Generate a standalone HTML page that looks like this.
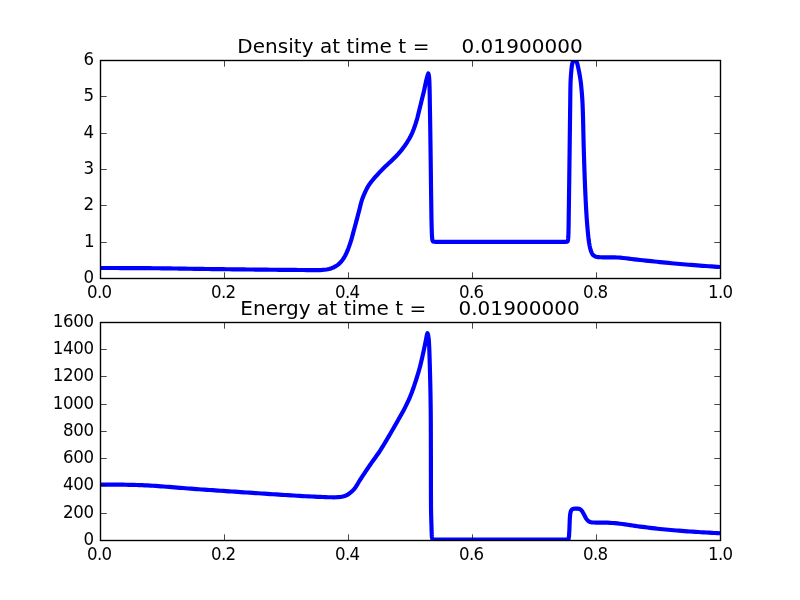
<!DOCTYPE html>
<html><head><meta charset="utf-8"><title>Density and Energy</title>
<style>
html,body{margin:0;padding:0;background:#fff;}
svg{display:block;}
text{font-family:"DejaVu Sans","Bitstream Vera Sans","Liberation Sans",sans-serif;fill:#000;}
.tick{font-size:16.667px;}
.title{font-size:20.000px;}
</style></head><body>
<svg width="800" height="600" viewBox="0 0 800 600">
<rect width="800" height="600" fill="#ffffff"/>
<defs>
<clipPath id="c1"><rect x="100" y="60" width="620" height="218.18"/></clipPath>
<clipPath id="c2"><rect x="100" y="321.82" width="620" height="218.18"/></clipPath>
</defs>

<g clip-path="url(#c1)"><path d="M100.00 268.00 L102.94 268.00 L105.88 268.00 L108.82 268.01 L111.77 268.01 L114.71 268.02 L117.65 268.03 L120.59 268.04 L123.53 268.05 L126.47 268.07 L129.41 268.08 L132.35 268.10 L135.29 268.11 L138.24 268.13 L141.18 268.15 L144.12 268.16 L147.06 268.18 L150.00 268.20 L152.94 268.22 L155.88 268.25 L158.82 268.28 L161.76 268.31 L164.71 268.35 L167.65 268.39 L170.59 268.44 L173.53 268.48 L176.47 268.53 L179.41 268.58 L182.35 268.63 L185.29 268.68 L188.24 268.73 L191.18 268.77 L194.12 268.82 L197.06 268.86 L200.00 268.90 L202.94 268.94 L205.88 268.98 L208.82 269.01 L211.76 269.05 L214.71 269.09 L217.65 269.12 L220.59 269.16 L223.53 269.20 L226.47 269.23 L229.41 269.27 L232.35 269.30 L235.29 269.33 L238.24 269.37 L241.18 269.40 L244.12 269.44 L247.06 269.47 L250.00 269.50 L252.86 269.53 L255.71 269.56 L258.57 269.59 L261.43 269.62 L264.29 269.65 L267.14 269.68 L270.00 269.71 L272.86 269.74 L275.71 269.77 L278.57 269.80 L281.43 269.82 L284.29 269.85 L287.14 269.88 L290.00 269.90 L292.75 269.92 L295.50 269.95 L298.25 269.98 L301.00 270.00 L303.75 270.03 L306.50 270.05 L309.26 270.07 L312.00 270.09 L314.75 270.10 L317.50 270.10 L319.79 270.05 L322.08 269.92 L324.35 269.73 L326.60 269.50 L329.13 269.00 L331.63 268.18 L334.00 267.20 L335.95 266.15 L337.82 264.84 L339.50 263.40 L341.06 261.76 L342.52 259.93 L343.84 257.98 L345.00 256.00 L346.31 253.40 L347.49 250.70 L348.56 247.92 L349.56 245.11 L350.50 242.30 L351.29 239.77 L352.03 237.22 L352.73 234.65 L353.41 232.07 L354.10 229.50 L354.86 226.72 L355.61 223.94 L356.36 221.15 L357.11 218.37 L357.84 215.58 L358.57 212.79 L359.30 210.00 L359.98 207.22 L360.65 204.45 L361.40 201.70 L362.35 198.86 L363.43 196.06 L364.60 193.30 L365.57 191.17 L366.60 189.06 L367.71 187.00 L368.90 185.00 L370.44 182.86 L372.10 180.80 L373.82 178.73 L375.60 176.70 L377.53 174.56 L379.49 172.44 L381.48 170.36 L383.50 168.30 L385.23 166.62 L387.00 164.97 L388.79 163.33 L390.56 161.68 L392.30 160.00 L394.33 157.98 L396.35 155.93 L398.32 153.85 L400.20 151.70 L401.84 149.68 L403.42 147.59 L404.94 145.46 L406.40 143.30 L407.70 141.28 L408.96 139.22 L410.16 137.13 L411.25 135.00 L412.47 132.29 L413.57 129.51 L414.60 126.70 L415.55 123.92 L416.43 121.12 L417.25 118.30 L417.97 115.54 L418.63 112.77 L419.30 110.00 L419.99 107.20 L420.69 104.40 L421.38 101.61 L422.07 98.81 L422.76 96.01 L423.44 93.21 L424.10 90.40 L424.67 87.82 L425.22 85.23 L425.76 82.63 L426.35 80.06 L427.00 77.50 L427.68 74.99 L428.30 73.50 L428.74 74.70 L429.10 77.35 L429.30 80.00 L429.41 82.68 L429.50 85.38 L429.58 88.07 L429.64 90.77 L429.69 93.48 L429.74 96.18 L429.78 98.89 L429.81 101.59 L429.85 104.30 L429.90 107.00 L429.95 109.87 L430.00 112.75 L430.05 115.62 L430.10 118.50 L430.14 121.37 L430.19 124.25 L430.23 127.12 L430.28 130.00 L430.32 132.87 L430.36 135.75 L430.40 138.62 L430.44 141.50 L430.48 144.37 L430.52 147.25 L430.56 150.12 L430.60 153.00 L430.64 155.94 L430.68 158.87 L430.72 161.81 L430.75 164.75 L430.79 167.69 L430.82 170.63 L430.86 173.56 L430.89 176.50 L430.93 179.44 L430.96 182.38 L431.00 185.31 L431.04 188.25 L431.07 191.19 L431.11 194.13 L431.16 197.06 L431.20 200.00 L431.24 202.91 L431.28 205.82 L431.32 208.73 L431.36 211.64 L431.41 214.55 L431.45 217.46 L431.51 220.37 L431.56 223.28 L431.63 226.19 L431.71 229.09 L431.80 232.00 L431.90 234.52 L432.05 237.04 L432.30 239.50 L432.55 240.61 L433.00 241.40 L433.88 241.68 L435.00 241.80 L437.95 241.80 L440.91 241.80 L443.88 241.80 L446.85 241.80 L449.84 241.80 L452.83 241.80 L455.82 241.80 L458.83 241.80 L461.83 241.80 L464.85 241.80 L467.86 241.80 L470.89 241.80 L473.91 241.80 L476.94 241.80 L479.96 241.80 L483.00 241.80 L486.03 241.80 L489.06 241.80 L492.09 241.80 L495.12 241.80 L498.15 241.80 L501.18 241.80 L504.21 241.80 L507.23 241.80 L510.25 241.80 L513.27 241.80 L516.28 241.80 L519.29 241.80 L522.29 241.80 L525.28 241.80 L528.27 241.80 L531.26 241.80 L534.23 241.80 L537.20 241.80 L540.16 241.80 L543.10 241.80 L546.04 241.80 L548.97 241.80 L551.89 241.80 L554.80 241.80 L557.69 241.80 L560.57 241.80 L563.44 241.80 L566.30 241.80 L567.05 241.64 L567.60 241.30 L567.92 240.29 L568.10 239.00 L568.29 237.01 L568.40 235.00 L568.48 232.15 L568.55 229.29 L568.60 226.43 L568.64 223.57 L568.67 220.72 L568.71 217.86 L568.75 215.00 L568.79 212.11 L568.84 209.21 L568.88 206.32 L568.92 203.42 L568.96 200.53 L569.00 197.63 L569.04 194.74 L569.08 191.84 L569.12 188.95 L569.16 186.05 L569.20 183.16 L569.24 180.26 L569.27 177.37 L569.31 174.47 L569.35 171.58 L569.39 168.68 L569.42 165.79 L569.46 162.89 L569.50 160.00 L569.54 157.11 L569.58 154.21 L569.61 151.32 L569.65 148.42 L569.69 145.53 L569.72 142.63 L569.76 139.74 L569.79 136.84 L569.83 133.95 L569.87 131.05 L569.90 128.16 L569.94 125.26 L569.97 122.37 L570.01 119.47 L570.05 116.58 L570.08 113.68 L570.12 110.79 L570.16 107.89 L570.20 105.00 L570.23 102.37 L570.26 99.75 L570.29 97.12 L570.32 94.50 L570.36 91.87 L570.39 89.25 L570.44 86.62 L570.50 84.00 L570.60 81.20 L570.74 78.39 L570.93 75.59 L571.15 72.79 L571.40 70.00 L571.62 67.81 L571.90 65.63 L572.30 63.50 L572.69 62.15 L573.30 61.00 L573.80 60.54 L574.40 60.30 L575.02 60.55 L575.60 61.00 L576.40 61.78 L577.00 62.70 L577.49 64.30 L577.85 66.00 L578.45 68.66 L579.00 71.32 L579.50 74.00 L579.93 76.49 L580.34 78.99 L580.70 81.49 L581.00 84.00 L581.27 86.62 L581.52 89.24 L581.75 91.86 L581.96 94.49 L582.16 97.11 L582.33 99.74 L582.48 102.37 L582.60 105.00 L582.71 107.81 L582.81 110.62 L582.90 113.43 L582.99 116.24 L583.06 119.05 L583.13 121.87 L583.20 124.68 L583.26 127.49 L583.32 130.31 L583.38 133.12 L583.44 135.93 L583.51 138.75 L583.57 141.56 L583.64 144.37 L583.72 147.19 L583.80 150.00 L583.89 152.91 L583.98 155.83 L584.07 158.74 L584.16 161.65 L584.26 164.57 L584.35 167.48 L584.45 170.39 L584.55 173.31 L584.66 176.22 L584.76 179.13 L584.87 182.04 L584.99 184.96 L585.11 187.87 L585.23 190.78 L585.36 193.69 L585.50 196.60 L585.64 199.52 L585.79 202.44 L585.94 205.36 L586.10 208.28 L586.27 211.20 L586.45 214.12 L586.64 217.04 L586.84 219.96 L587.06 222.87 L587.29 225.78 L587.54 228.69 L587.80 231.60 L588.07 234.35 L588.36 237.12 L588.69 239.89 L589.09 242.63 L589.55 245.34 L590.10 248.00 L590.78 250.57 L591.75 253.10 L593.00 255.00 L595.23 256.46 L598.00 257.20 L600.67 257.26 L603.41 257.30 L606.20 257.32 L609.01 257.33 L611.82 257.36 L614.60 257.40 L617.43 257.51 L620.25 257.70 L623.08 257.96 L625.90 258.27 L628.72 258.62 L631.54 258.98 L634.36 259.35 L637.18 259.69 L640.00 260.00 L642.86 260.29 L645.71 260.59 L648.57 260.88 L651.43 261.18 L654.28 261.48 L657.14 261.78 L659.99 262.08 L662.85 262.37 L665.71 262.66 L668.56 262.94 L671.42 263.22 L674.28 263.49 L677.14 263.75 L680.00 264.00 L682.85 264.24 L685.71 264.48 L688.56 264.72 L691.42 264.95 L694.28 265.17 L697.13 265.40 L699.99 265.62 L702.85 265.83 L705.70 266.04 L708.56 266.24 L711.42 266.44 L714.28 266.63 L717.14 266.82 L720.00 267.00" fill="none" stroke="#0000ff" stroke-width="4.17" stroke-linejoin="round" stroke-linecap="butt"/></g>
<path d="M100.50 278.50 v-6.20 M100.50 60.50 v6.20 M224.50 278.50 v-6.20 M224.50 60.50 v6.20 M348.50 278.50 v-6.20 M348.50 60.50 v6.20 M472.50 278.50 v-6.20 M472.50 60.50 v6.20 M596.50 278.50 v-6.20 M596.50 60.50 v6.20 M720.50 278.50 v-6.20 M720.50 60.50 v6.20 M100.50 278.50 h6.20 M720.50 278.50 h-6.20 M100.50 242.50 h6.20 M720.50 242.50 h-6.20 M100.50 205.50 h6.20 M720.50 205.50 h-6.20 M100.50 169.50 h6.20 M720.50 169.50 h-6.20 M100.50 133.50 h6.20 M720.50 133.50 h-6.20 M100.50 96.50 h6.20 M720.50 96.50 h-6.20 M100.50 60.50 h6.20 M720.50 60.50 h-6.20" stroke="#000" stroke-opacity="0.72" stroke-width="1" fill="none"/>
<rect x="100.5" y="60.5" width="620" height="218" fill="none" stroke="#000" stroke-width="1.39"/>
<text class="tick" transform="translate(99.60 297.68) scale(1 1.080)" text-anchor="middle" textLength="25.2" lengthAdjust="spacing">0.0</text>
<text class="tick" transform="translate(223.60 297.68) scale(1 1.080)" text-anchor="middle" textLength="25.2" lengthAdjust="spacing">0.2</text>
<text class="tick" transform="translate(347.60 297.68) scale(1 1.080)" text-anchor="middle" textLength="25.2" lengthAdjust="spacing">0.4</text>
<text class="tick" transform="translate(471.60 297.68) scale(1 1.080)" text-anchor="middle" textLength="25.2" lengthAdjust="spacing">0.6</text>
<text class="tick" transform="translate(595.60 297.68) scale(1 1.080)" text-anchor="middle" textLength="25.2" lengthAdjust="spacing">0.8</text>
<text class="tick" transform="translate(720.60 297.68) scale(1 1.080)" text-anchor="middle" textLength="25.2" lengthAdjust="spacing">1.0</text>
<text class="tick" transform="translate(94.00 283.18) scale(1 1.080)" text-anchor="end" textLength="10.3" lengthAdjust="spacing">0</text>
<text class="tick" transform="translate(94.70 246.82) scale(1 1.080)" text-anchor="end" textLength="10.3" lengthAdjust="spacing">1</text>
<text class="tick" transform="translate(94.00 210.45) scale(1 1.080)" text-anchor="end" textLength="10.3" lengthAdjust="spacing">2</text>
<text class="tick" transform="translate(94.00 174.09) scale(1 1.080)" text-anchor="end" textLength="10.3" lengthAdjust="spacing">3</text>
<text class="tick" transform="translate(94.00 137.73) scale(1 1.080)" text-anchor="end" textLength="10.3" lengthAdjust="spacing">4</text>
<text class="tick" transform="translate(94.00 101.36) scale(1 1.080)" text-anchor="end" textLength="10.3" lengthAdjust="spacing">5</text>
<text class="tick" transform="translate(94.00 65.00) scale(1 1.080)" text-anchor="end" textLength="10.3" lengthAdjust="spacing">6</text>
<text class="title" transform="translate(410 52.70) scale(1 1.000)" text-anchor="middle" xml:space="preserve" textLength="345.50" lengthAdjust="spacing">Density at time t =     0.01900000</text>
<g clip-path="url(#c2)"><path d="M100.00 484.60 L103.00 484.60 L106.00 484.60 L109.00 484.60 L112.00 484.60 L115.00 484.60 L117.70 484.61 L120.40 484.64 L123.10 484.69 L125.80 484.75 L128.50 484.80 L131.22 484.86 L133.93 484.93 L136.65 485.01 L139.37 485.10 L142.08 485.19 L144.80 485.30 L147.50 485.42 L150.20 485.57 L152.90 485.74 L155.60 485.92 L158.30 486.11 L161.00 486.30 L163.72 486.50 L166.43 486.71 L169.15 486.93 L171.87 487.15 L174.58 487.38 L177.30 487.60 L180.00 487.82 L182.70 488.04 L185.40 488.26 L188.10 488.48 L190.80 488.70 L193.50 488.90 L196.22 489.09 L198.93 489.28 L201.65 489.46 L204.37 489.64 L207.08 489.82 L209.80 490.00 L212.50 490.18 L215.20 490.37 L217.90 490.55 L220.60 490.73 L223.30 490.92 L226.00 491.10 L228.94 491.30 L231.89 491.50 L234.83 491.70 L237.78 491.90 L240.72 492.11 L243.67 492.31 L246.61 492.51 L249.56 492.70 L252.50 492.90 L255.45 493.10 L258.41 493.29 L261.36 493.49 L264.32 493.69 L267.27 493.88 L270.23 494.07 L273.18 494.26 L276.13 494.45 L279.09 494.64 L282.04 494.82 L285.00 495.00 L287.95 495.18 L290.91 495.36 L293.86 495.54 L296.82 495.72 L299.77 495.90 L302.72 496.07 L305.68 496.24 L308.63 496.40 L311.59 496.54 L314.54 496.68 L317.50 496.80 L320.22 496.91 L322.93 497.02 L325.65 497.13 L328.37 497.22 L331.08 497.28 L333.80 497.30 L335.97 497.26 L338.15 497.15 L340.30 497.00 L342.95 496.52 L345.50 495.70 L347.83 494.52 L350.00 493.00 L352.22 491.16 L354.20 489.10 L355.79 486.97 L357.21 484.68 L358.59 482.32 L360.00 480.00 L361.41 477.84 L362.82 475.69 L364.24 473.54 L365.67 471.40 L367.11 469.26 L368.55 467.13 L370.00 465.00 L371.66 462.63 L373.35 460.27 L375.04 457.93 L376.73 455.57 L378.39 453.20 L380.00 450.80 L381.49 448.47 L382.95 446.12 L384.38 443.75 L385.80 441.37 L387.20 438.98 L388.60 436.59 L390.00 434.20 L391.45 431.71 L392.90 429.22 L394.33 426.73 L395.76 424.23 L397.18 421.72 L398.59 419.21 L400.00 416.70 L401.28 414.44 L402.55 412.17 L403.80 409.90 L405.00 407.60 L406.24 405.12 L407.44 402.62 L408.62 400.10 L409.74 397.56 L410.80 395.00 L411.71 392.67 L412.58 390.32 L413.42 387.95 L414.23 385.57 L415.02 383.19 L415.80 380.80 L416.70 378.00 L417.57 375.19 L418.42 372.37 L419.23 369.54 L420.00 366.70 L420.71 363.88 L421.39 361.04 L422.04 358.20 L422.67 355.35 L423.30 352.50 L423.94 349.58 L424.55 346.65 L425.17 343.72 L425.80 340.80 L426.36 337.70 L426.93 334.61 L427.50 333.20 L428.12 334.99 L428.60 338.00 L428.81 340.23 L428.97 342.48 L429.09 344.74 L429.20 347.00 L429.33 349.94 L429.43 352.88 L429.53 355.82 L429.62 358.76 L429.70 361.70 L429.78 364.47 L429.86 367.25 L429.94 370.02 L430.01 372.80 L430.08 375.57 L430.15 378.35 L430.22 381.12 L430.29 383.90 L430.35 386.67 L430.40 389.45 L430.45 392.22 L430.50 395.00 L430.54 397.78 L430.59 400.56 L430.63 403.33 L430.67 406.11 L430.70 408.89 L430.73 411.67 L430.76 414.44 L430.78 417.22 L430.80 420.00 L430.81 422.93 L430.82 425.86 L430.83 428.79 L430.84 431.72 L430.85 434.66 L430.86 437.59 L430.86 440.52 L430.87 443.45 L430.87 446.38 L430.88 449.31 L430.88 452.24 L430.89 455.17 L430.89 458.10 L430.89 461.04 L430.90 463.97 L430.90 466.90 L430.90 469.83 L430.91 472.76 L430.91 475.69 L430.92 478.62 L430.92 481.55 L430.93 484.48 L430.94 487.42 L430.94 490.35 L430.95 493.28 L430.96 496.21 L430.97 499.14 L430.99 502.07 L431.00 505.00 L431.02 507.78 L431.06 510.56 L431.11 513.33 L431.18 516.11 L431.25 518.89 L431.33 521.67 L431.42 524.45 L431.51 527.22 L431.60 530.00 L431.67 532.35 L431.75 534.69 L431.90 537.00 L432.14 538.32 L432.60 539.30 L433.21 539.57 L434.00 539.70 L436.90 539.70 L439.82 539.70 L442.76 539.70 L445.71 539.70 L448.69 539.70 L451.69 539.70 L454.69 539.70 L457.72 539.70 L460.75 539.70 L463.80 539.70 L466.86 539.70 L469.92 539.70 L473.00 539.70 L476.08 539.70 L479.16 539.70 L482.25 539.70 L485.34 539.70 L488.43 539.70 L491.52 539.70 L494.61 539.70 L497.69 539.70 L500.77 539.70 L503.84 539.70 L506.91 539.70 L509.97 539.70 L513.02 539.70 L516.06 539.70 L519.08 539.70 L522.09 539.70 L525.09 539.70 L528.07 539.70 L531.03 539.70 L533.97 539.70 L536.89 539.70 L539.79 539.70 L542.67 539.70 L545.52 539.70 L548.35 539.70 L551.15 539.70 L553.92 539.70 L556.66 539.70 L559.37 539.70 L562.05 539.70 L564.69 539.70 L567.30 539.70 L568.08 539.39 L568.60 538.80 L569.01 536.12 L569.20 533.00 L569.36 530.17 L569.48 527.33 L569.57 524.49 L569.68 521.65 L569.81 518.82 L570.00 516.00 L570.25 513.76 L570.70 511.60 L571.18 510.44 L571.90 509.50 L572.68 509.01 L573.60 508.75 L575.03 508.68 L576.50 508.65 L577.71 508.69 L578.90 508.80 L579.73 509.06 L580.50 509.50 L581.19 510.09 L581.80 510.80 L582.38 511.63 L582.90 512.50 L583.67 513.84 L584.40 515.20 L585.28 517.05 L586.25 518.80 L587.39 520.20 L588.75 521.30 L590.26 522.00 L591.90 522.40 L593.93 522.54 L596.00 522.60 L599.00 522.60 L602.00 522.60 L605.00 522.60 L607.50 522.67 L610.00 522.82 L612.50 523.00 L615.00 523.20 L617.51 523.44 L620.01 523.71 L622.50 524.00 L625.00 524.33 L627.50 524.72 L630.00 525.12 L632.50 525.53 L635.00 525.90 L637.50 526.24 L640.00 526.56 L642.50 526.88 L645.00 527.19 L647.50 527.50 L650.00 527.81 L652.50 528.13 L655.00 528.44 L657.50 528.73 L660.00 529.00 L662.72 529.27 L665.45 529.53 L668.17 529.78 L670.90 530.02 L673.62 530.26 L676.35 530.48 L679.08 530.70 L681.81 530.91 L684.54 531.11 L687.27 531.31 L690.00 531.50 L692.73 531.68 L695.45 531.87 L698.18 532.04 L700.90 532.21 L703.63 532.38 L706.36 532.54 L709.08 532.69 L711.81 532.84 L714.54 532.99 L717.27 533.12 L720.00 533.25" fill="none" stroke="#0000ff" stroke-width="4.17" stroke-linejoin="round" stroke-linecap="butt"/></g>
<path d="M100.50 540.50 v-6.20 M100.50 322.50 v6.20 M224.50 540.50 v-6.20 M224.50 322.50 v6.20 M348.50 540.50 v-6.20 M348.50 322.50 v6.20 M472.50 540.50 v-6.20 M472.50 322.50 v6.20 M596.50 540.50 v-6.20 M596.50 322.50 v6.20 M720.50 540.50 v-6.20 M720.50 322.50 v6.20 M100.50 540.50 h6.20 M720.50 540.50 h-6.20 M100.50 513.50 h6.20 M720.50 513.50 h-6.20 M100.50 485.50 h6.20 M720.50 485.50 h-6.20 M100.50 458.50 h6.20 M720.50 458.50 h-6.20 M100.50 431.50 h6.20 M720.50 431.50 h-6.20 M100.50 404.50 h6.20 M720.50 404.50 h-6.20 M100.50 376.50 h6.20 M720.50 376.50 h-6.20 M100.50 349.50 h6.20 M720.50 349.50 h-6.20 M100.50 322.50 h6.20 M720.50 322.50 h-6.20" stroke="#000" stroke-opacity="0.72" stroke-width="1" fill="none"/>
<rect x="100.5" y="322.5" width="620" height="218" fill="none" stroke="#000" stroke-width="1.39"/>
<text class="tick" transform="translate(99.60 559.50) scale(1 1.080)" text-anchor="middle" textLength="25.2" lengthAdjust="spacing">0.0</text>
<text class="tick" transform="translate(223.60 559.50) scale(1 1.080)" text-anchor="middle" textLength="25.2" lengthAdjust="spacing">0.2</text>
<text class="tick" transform="translate(347.60 559.50) scale(1 1.080)" text-anchor="middle" textLength="25.2" lengthAdjust="spacing">0.4</text>
<text class="tick" transform="translate(471.60 559.50) scale(1 1.080)" text-anchor="middle" textLength="25.2" lengthAdjust="spacing">0.6</text>
<text class="tick" transform="translate(595.60 559.50) scale(1 1.080)" text-anchor="middle" textLength="25.2" lengthAdjust="spacing">0.8</text>
<text class="tick" transform="translate(720.60 559.50) scale(1 1.080)" text-anchor="middle" textLength="25.2" lengthAdjust="spacing">1.0</text>
<text class="tick" transform="translate(94.00 545.00) scale(1 1.080)" text-anchor="end" textLength="10.3" lengthAdjust="spacing">0</text>
<text class="tick" transform="translate(94.00 517.73) scale(1 1.080)" text-anchor="end" textLength="30.9" lengthAdjust="spacing">200</text>
<text class="tick" transform="translate(94.00 490.45) scale(1 1.080)" text-anchor="end" textLength="30.9" lengthAdjust="spacing">400</text>
<text class="tick" transform="translate(94.00 463.18) scale(1 1.080)" text-anchor="end" textLength="30.9" lengthAdjust="spacing">600</text>
<text class="tick" transform="translate(94.00 435.91) scale(1 1.080)" text-anchor="end" textLength="30.9" lengthAdjust="spacing">800</text>
<text class="tick" transform="translate(94.00 408.64) scale(1 1.080)" text-anchor="end" textLength="41.2" lengthAdjust="spacing">1000</text>
<text class="tick" transform="translate(94.00 381.37) scale(1 1.080)" text-anchor="end" textLength="41.2" lengthAdjust="spacing">1200</text>
<text class="tick" transform="translate(94.00 354.09) scale(1 1.080)" text-anchor="end" textLength="41.2" lengthAdjust="spacing">1400</text>
<text class="tick" transform="translate(94.00 326.82) scale(1 1.080)" text-anchor="end" textLength="41.2" lengthAdjust="spacing">1600</text>
<text class="title" transform="translate(410 314.52) scale(1 1.000)" text-anchor="middle" xml:space="preserve" textLength="339.50" lengthAdjust="spacing">Energy at time t =     0.01900000</text>
</svg></body></html>
